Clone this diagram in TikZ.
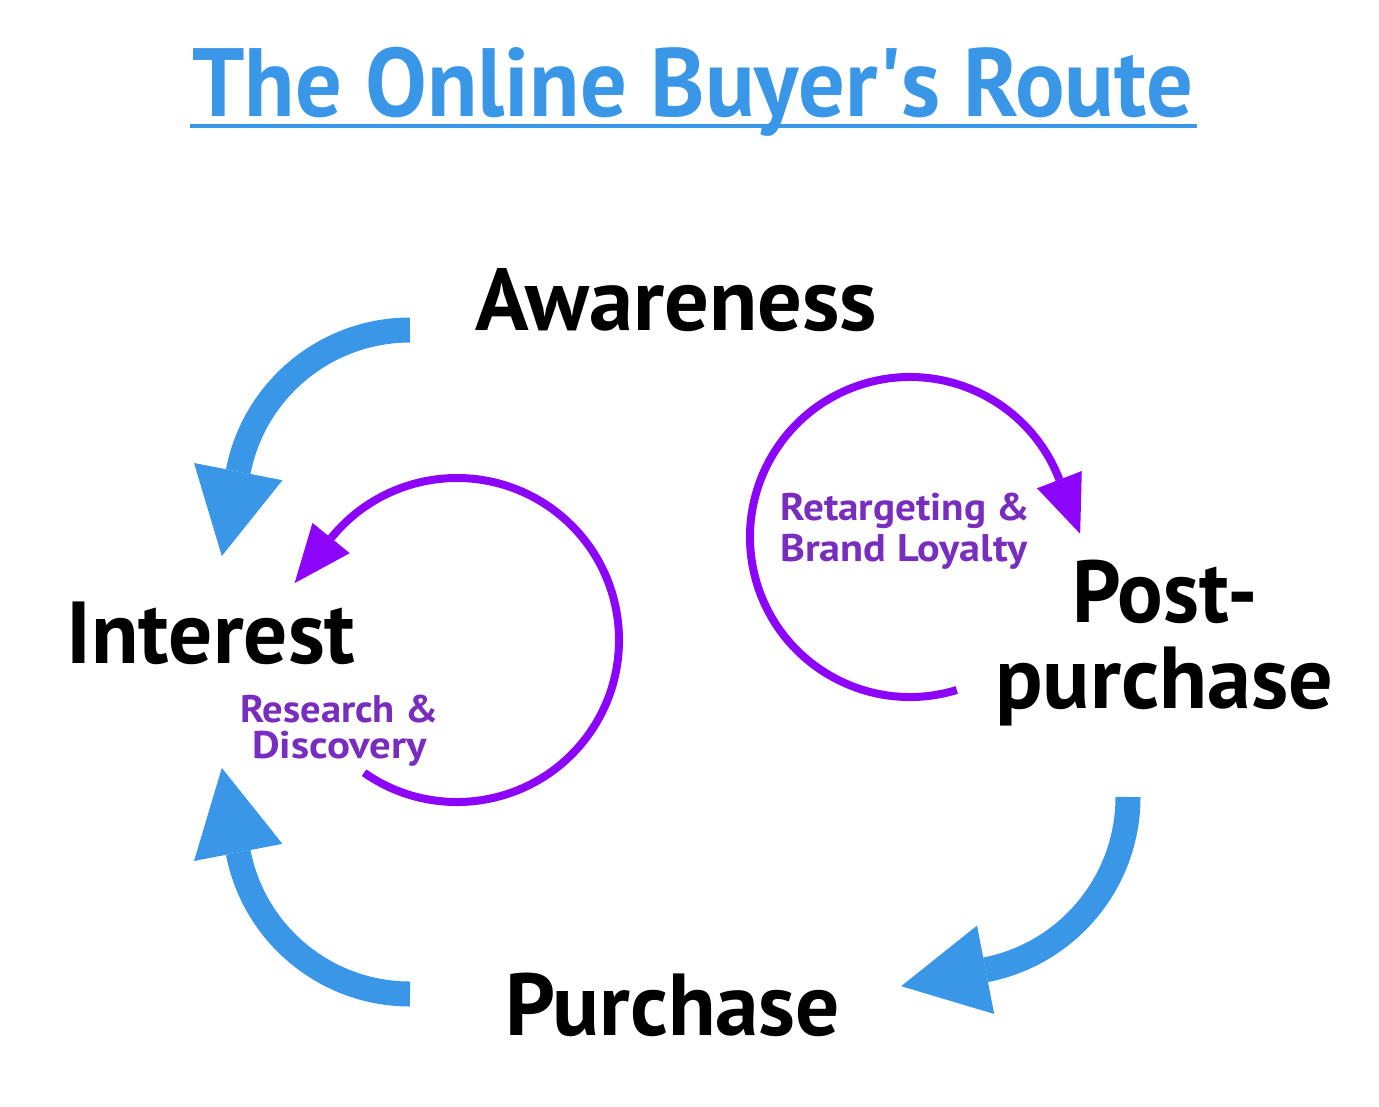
\documentclass[tikz,border=0pt]{standalone}
\usepackage{fontspec}
\setmainfont{PT Sans}
\usetikzlibrary{calc}
\definecolor{bblue}{RGB}{58,150,230}
\definecolor{vio}{RGB}{140,5,250}
\definecolor{viotext}{RGB}{120,45,190}
\begin{document}
\begin{tikzpicture}[x=1pt,y=-1pt,
  titlestyle/.style={anchor=base west, inner sep=0pt, text=bblue, font=\fontsize{97}{100}\selectfont\bfseries},
  lab/.style={anchor=base west, inner sep=0pt, text=black, font=\fontsize{88}{90}\selectfont\bfseries},
  sublab/.style={anchor=base west, inner sep=0pt, text=viotext, font=\fontsize{38.5}{40}\selectfont\bfseries},
  bluearc/.style={draw=bblue, line width=25pt},
  bluehead/.style={fill=bblue},
  vioarc/.style={draw=vio, line width=8pt},
  viohead/.style={fill=vio}]
\useasboundingbox[fill=white] (0,0) rectangle (1379,1106);

% title
\node[titlestyle] (title) at (192,116) {\resizebox{1001pt}{\height}{The Online Buyer\textquotesingle s Route}};
\coordinate (ulA) at (190,125.5);
\coordinate (ulB) at (1197,125.5);
\draw[bblue, line width=4pt] (ulA) -- (ulB);

% stage labels
\node[lab] (aw) at (475,330) {\resizebox{402pt}{\height}{Awareness}};
\node[lab] (int) at (66,663) {\resizebox{289pt}{\height}{Interest}};
\node[lab] (post1) at (1072,622) {\resizebox{186pt}{\height}{Post-}};
\node[lab] (post2) at (995,708) {\resizebox{338pt}{\height}{purchase}};
\node[lab] (pur) at (505,1035) {\resizebox{335pt}{\height}{Purchase}};

% sub labels
\node[sublab] (rd1) at (240,722) {\resizebox{198pt}{\height}{Research \&}};
\node[sublab] (rd2) at (252,758) {\resizebox{175pt}{\height}{Discovery}};
\node[sublab] (rb1) at (780,520) {\resizebox{250pt}{\height}{Retargeting \&}};
\node[sublab] (rb2) at (780,561) {\resizebox{247pt}{\height}{Brand Loyalty}};

% centres of the arcs
\coordinate (c1) at (410,505);
\coordinate (c2) at (410,819);
\coordinate (c3) at (952,797);
\coordinate (pA) at (457,640);
\coordinate (pB) at (910,537);

% Awareness -> Interest
\draw[bluearc] ($(c1)+(-90:175)$) arc[start angle=-90, end angle=-169, radius=175];
\fill[bluehead] ($(c1)+(-169:130)$) -- ($(c1)+(-169:220)$) -- ($(c1)+(-169:175)+(-259:86)$) -- cycle;

% Purchase -> Interest
\draw[bluearc] ($(c2)+(90:175)$) arc[start angle=90, end angle=169, radius=175];
\fill[bluehead] ($(c2)+(169:130)$) -- ($(c2)+(169:220)$) -- ($(c2)+(169:175)+(259:86)$) -- cycle;

% Post-purchase -> Purchase
\draw[bluearc] ($(c3)+(0:176)$) arc[start angle=0, end angle=79, radius=176];
\fill[bluehead] ($(c3)+(79:131)$) -- ($(c3)+(79:221)$) -- ($(c3)+(79:176)+(169:86)$) -- cycle;

% Research & Discovery loop
\draw[vioarc] ($(pA)+(125:162)$) arc[start angle=125, end angle=-141, radius=162];
\fill[viohead] ($(pA)+(-141:138)$) -- ($(pA)+(-141:186)$) -- ($(pA)+(-141:162)+(-231:58)$) -- cycle;

% Retargeting & Brand Loyalty loop
\draw[vioarc] ($(pB)+(73:160)$) arc[start angle=73, end angle=339, radius=160];
\fill[viohead] ($(pB)+(339:136)$) -- ($(pB)+(339:184)$) -- ($(pB)+(339:160)+(69:58)$) -- cycle;
\end{tikzpicture}
\end{document}
